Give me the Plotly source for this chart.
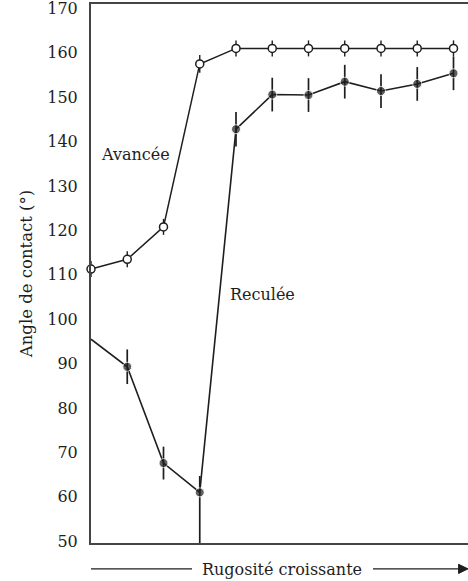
import plotly.graph_objects as go

# Data
rugosite = [0, 1, 2, 3, 4, 5, 6, 7, 8, 9, 10]
avancee = [111.3, 113.5, 120.8, 157.5, 161, 161, 161, 161, 161, 161, 161]
avancee_err = [1.8, 1.8, 1.8, 2.0, 1.8, 1.8, 1.8, 1.8, 1.8, 1.8, 1.8]
reculee = [95.5, 89.3, 67.6, 61.0, 142.8, 150.6, 150.5, 153.5, 151.4, 153.0, 155.4]
reculee_err_plus = [0, 3.9, 3.7, 3.7, 3.9, 3.8, 3.8, 3.8, 3.8, 3.8, 3.8]
reculee_err_minus = [0, 3.9, 3.7, 11.4, 3.9, 3.8, 3.8, 3.8, 3.8, 3.8, 3.8]
y_ticks = [50, 60, 70, 80, 90, 100, 110, 120, 130, 140, 150, 160, 170]

ink = "#1e1e1e"
font_family = "DejaVu Serif"

fig = go.Figure()

fig.add_trace(go.Scatter(
    x=rugosite, y=reculee, mode="lines+markers",
    line=dict(color=ink, width=1.6),
    marker=dict(size=[0] + [9] * 10, color=ink, symbol="circle"),
    error_y=dict(type="data", symmetric=False, array=reculee_err_plus,
                 arrayminus=reculee_err_minus, color=ink, thickness=1.7, width=0),
    showlegend=False, cliponaxis=False,
))

fig.add_trace(go.Scatter(
    x=rugosite, y=avancee, mode="lines+markers",
    line=dict(color=ink, width=1.5),
    marker=dict(size=8, color="white", symbol="circle",
                line=dict(color=ink, width=1.5)),
    error_y=dict(type="data", array=avancee_err, color=ink, thickness=1.4, width=0),
    showlegend=False, cliponaxis=False,
))

fig.add_annotation(x=0.22, y=137, text="Avancée", showarrow=False,
                   xanchor="left", yanchor="middle",
                   font=dict(family=font_family, size=16, color=ink))
fig.add_annotation(x=3.78, y=105.5, text="Reculée", showarrow=False,
                   xanchor="left", yanchor="middle",
                   font=dict(family=font_family, size=16, color=ink))

# x-axis caption with arrow
fig.add_annotation(xref="paper", yref="paper", x=0.507, y=-0.050,
                   text="Rugosité croissante", showarrow=False,
                   xanchor="center", yanchor="middle",
                   font=dict(family=font_family, size=16, color=ink))
fig.add_shape(type="line", xref="paper", yref="paper",
              x0=0.0, x1=0.268, y0=-0.048, y1=-0.048,
              line=dict(color=ink, width=1.3))
fig.add_shape(type="line", xref="paper", yref="paper",
              x0=0.748, x1=0.99, y0=-0.048, y1=-0.048,
              line=dict(color=ink, width=1.3))
fig.add_shape(type="path", xref="paper", yref="paper",
              path="M 0.975 -0.0395 L 1.0 -0.048 L 0.975 -0.0565 Z",
              fillcolor=ink, line=dict(color=ink, width=1))

fig.update_layout(
    width=468, height=581,
    margin=dict(l=91, r=0, t=4, b=38),
    paper_bgcolor="white", plot_bgcolor="white",
    font=dict(family=font_family, size=16, color=ink),
    xaxis=dict(range=[0, 10.4], showticklabels=False, ticks="", showgrid=False,
               zeroline=False, showline=True, linecolor="#444", linewidth=2,
               mirror=True),
    yaxis=dict(range=[49.6, 171], tickvals=y_ticks, ticks="", showgrid=False,
               zeroline=False, showline=True, linecolor="#444", linewidth=2,
               ticklabelstandoff=8, ticklabeloverflow="allow",
               tickfont=dict(family=font_family, size=16, color=ink),
               title=dict(text="Angle de contact (°)", standoff=10,
                          font=dict(family=font_family, size=16.5, color=ink))),
)

fig.write_html(
    "out.html",
    config={"displayModeBar": False},
    post_script="document.body.style.margin='0';document.body.style.overflow='hidden';",
)
